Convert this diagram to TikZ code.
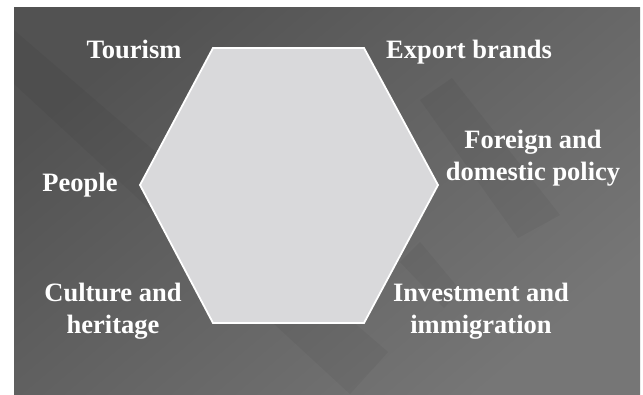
\documentclass[tikz,border=0pt]{standalone}
\usepackage{fontspec}
\setmainfont{Liberation Serif}
\definecolor{bgdark}{HTML}{525252}
\definecolor{bglight}{HTML}{767676}
\definecolor{hexfill}{HTML}{D9D9DB}
\begin{document}
\begin{tikzpicture}[x=1pt,y=-1pt,
  lbl/.style={text=white,font=\fontsize{26.5}{32}\selectfont\bfseries,
    align=center,inner sep=0pt,anchor=base},
  band/.style={fill=black,opacity=0.045},
  hexa/.style={fill=hexfill,draw=white,line width=1.8pt,line join=miter}]
\useasboundingbox (0,0) rectangle (643,394);
\fill[white] (0,0) rectangle (643,394);
% slide background
\shade[top color=bgdark,bottom color=bglight,shading angle=40]
  (14,7) rectangle (640,394);
% faint diagonal bars of the backdrop
\begin{scope}
  \clip (14,7) rectangle (640,394);
  \fill[band] (14,84) -- (14,30) -- (388,352) -- (350,394) -- cycle;
  \fill[band] (420,100) -- (452,78) -- (560,215) -- (518,238) -- cycle;
  \fill[band] (400,262) -- (420,242) -- (460,290) -- (444,308) -- cycle;
\end{scope}
% central hexagon
\coordinate (h1) at (213,48);
\coordinate (h2) at (364,48);
\coordinate (h3) at (438,185);
\coordinate (h4) at (364,323);
\coordinate (h5) at (213,323);
\coordinate (h6) at (140,185);
\draw[hexa] (h1) -- (h2) -- (h3) -- (h4) -- (h5) -- (h6) -- cycle;
% labels around the hexagon
\node[lbl] (tourism) at (134,58) {Tourism};
\node[lbl] (export)  at (469,58) {Export brands};
\node[lbl] (people)  at (80,191) {People};
\node[lbl] (policy)  at (533,180) {Foreign and\\domestic policy};
\node[lbl] (culture) at (113,333) {Culture and\\heritage};
\node[lbl] (invest)  at (481,333) {Investment and\\immigration};
\end{tikzpicture}
\end{document}
